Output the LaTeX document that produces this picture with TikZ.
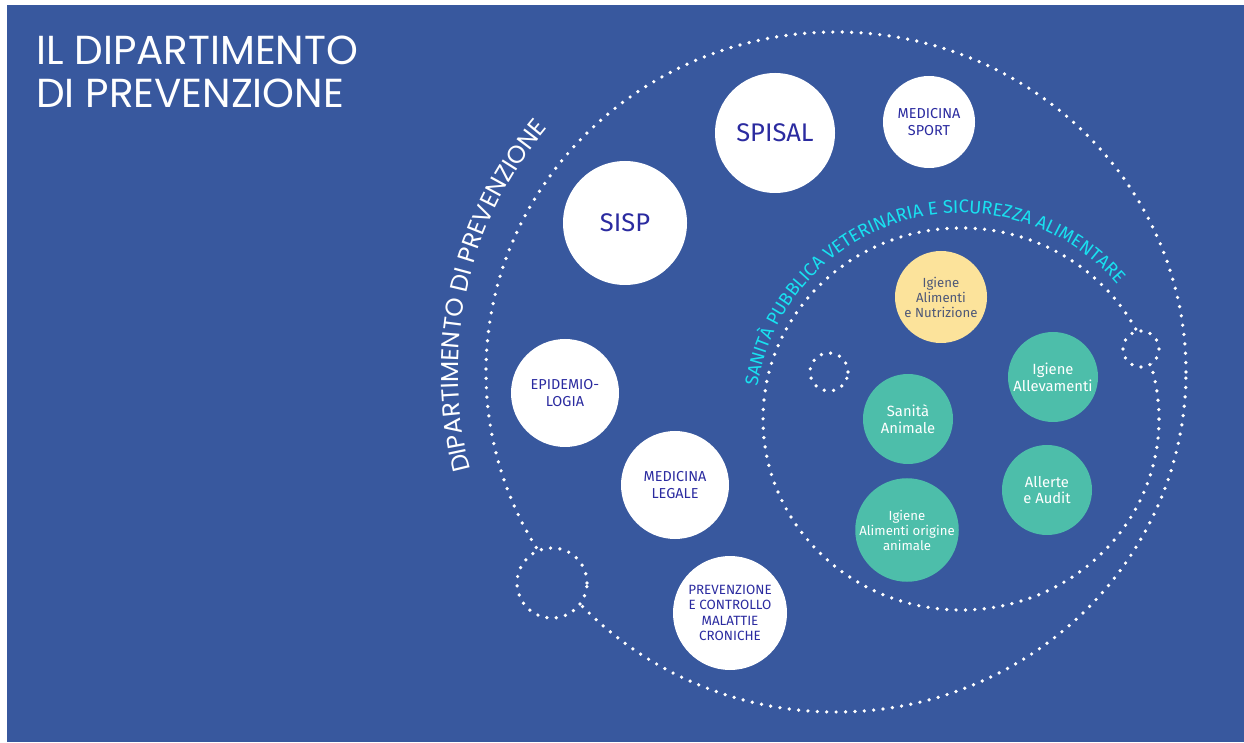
\documentclass[tikz,border=0pt]{standalone}
\usepackage{fontspec}
\setmainfont{Fira Sans}
\newfontfamily\titlefont{Poppins}
\usetikzlibrary{decorations.text}

\definecolor{bgblue}{RGB}{56,88,158}
\definecolor{ink}{RGB}{43,43,160}
\definecolor{tealnode}{RGB}{77,190,170}
\definecolor{sandnode}{RGB}{252,227,155}
\definecolor{sandink}{RGB}{78,88,120}
\definecolor{cyantext}{RGB}{25,225,240}

\begin{document}
\begin{tikzpicture}[x=1pt,y=1pt,
  dotline/.style={white, line width=3.7pt, line cap=round, dash pattern=on 0pt off 9.4pt},
  bubble/.style={circle, inner sep=0pt, align=center},
  whitebub/.style={bubble, fill=white, text=ink},
  tealbub/.style={bubble, fill=tealnode, text=white},
  sandbub/.style={bubble, fill=sandnode, text=sandink},
  bigfont/.style={font=\fontsize{25.5}{28}\selectfont},
  capfont/.style={font=\fontsize{14.4}{17.7}\selectfont},
  smallcap/.style={font=\fontsize{13.4}{15.3}\selectfont},
  tealfont/.style={font=\fontsize{14.8}{16.7}\selectfont},
  tealsmall/.style={font=\fontsize{13.2}{15}\selectfont},
]
% page and background panel
\fill[white] (0,0) rectangle (1244,742);
\fill[bgblue] (7,0) rectangle (1244,737);
\useasboundingbox (0,0) rectangle (1244,742);

% title
\node[anchor=base west, inner sep=0pt, text=white,
      font=\titlefont\fontsize{40.5}{43}\selectfont] (title1) at (36,677) {IL DIPARTIMENTO};
\node[anchor=base west, inner sep=0pt, text=white,
      font=\titlefont\fontsize{40.5}{43}\selectfont] (title2) at (36,634) {DI PREVENZIONE};

% dotted rings
\coordinate (outerc) at (836,370);
\coordinate (innerc) at (961,323);
\draw[dotline] (outerc) ellipse [x radius=350, y radius=340];
\draw[dotline] (innerc) ellipse [x radius=198, y radius=191];
\draw[dotline, fill=bgblue] (829,370) circle [radius=19];
\draw[dotline, fill=bgblue] (1141,393) circle [radius=18];
\draw[dotline, fill=bgblue] (552,159) circle [radius=35];

% curved labels
\path[decorate, decoration={text along path, text color=white,
      text format delimiters={|}{|},
      text={|\titlefont\fontsize{24.5}{24.5}\selectfont|DIPARTIMENTO DI PREVENZIONE}}]
  (outerc) ++(195:378) arc [start angle=195, end angle=100, radius=378];
\path[decorate, decoration={text along path, text color=cyantext,
      text format delimiters={|}{|},
      text={|\fontsize{18.3}{18.3}\selectfont|SANITÀ PUBBLICA VETERINARIA E SICUREZZA ALIMENTARE}}]
  (innerc) ++(171:206) arc [start angle=171, end angle=10, radius=206];

% prevention services
\node[whitebub, bigfont, minimum size=120pt] (spisal) at (775,609) {SPISAL};
\node[whitebub, capfont, minimum size=92pt] (sport) at (929,620) {MEDICINA\\SPORT};
\node[whitebub, bigfont, minimum size=124pt] (sisp) at (625,519) {SISP};
\node[whitebub, capfont, minimum size=108pt] (epi) at (565,349) {EPIDEMIO-\\LOGIA};
\node[whitebub, capfont, minimum size=108pt] (legale) at (675,257) {MEDICINA\\LEGALE};
\node[whitebub, smallcap, minimum size=114pt] (croniche) at (730,129)
  {PREVENZIONE\\E CONTROLLO\\MALATTIE\\CRONICHE};

% veterinary services
\node[sandbub, tealsmall, minimum size=92pt] (nutri) at (941,445) {Igiene\\Alimenti\\e Nutrizione};
\node[tealbub, tealfont, minimum size=90pt] (allev) at (1053,365) {Igiene\\Allevamenti};
\node[tealbub, tealfont, minimum size=90pt] (sanita) at (908,323) {Sanità\\Animale};
\node[tealbub, tealfont, minimum size=90pt] (audit) at (1047,252) {Allerte\\e Audit};
\node[tealbub, tealsmall, minimum size=98pt] (origine) at (907,212) {Igiene\\Alimenti origine\\animale};
\end{tikzpicture}
\end{document}
